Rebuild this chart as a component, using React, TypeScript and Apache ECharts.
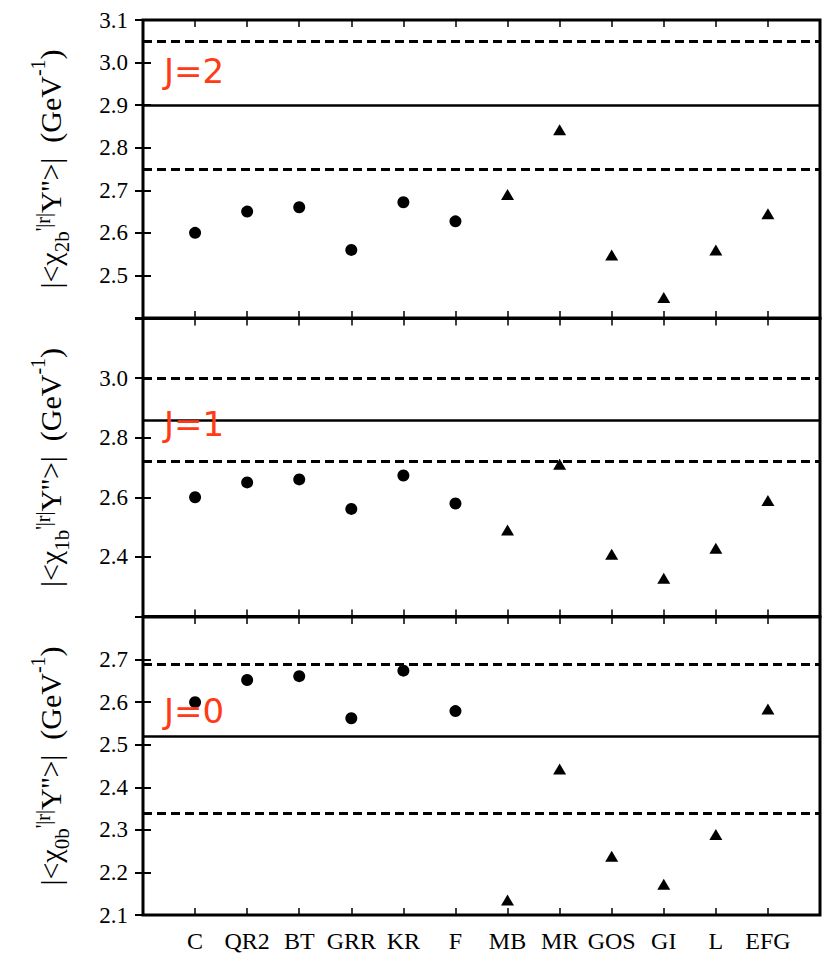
import React, { useEffect, useRef } from "react";
import * as echarts from "echarts";

// ---- data ----
const categories = ["C", "QR2", "BT", "GRR", "KR", "F", "MB", "MR", "GOS", "GI", "L", "EFG"];
const modelMarker = ["circle", "circle", "circle", "circle", "circle", "circle",
  "triangle", "triangle", "triangle", "triangle", "triangle", "triangle"];

const j2Values = [2.60, 2.65, 2.66, 2.56, 2.672, 2.627, 2.69, 2.842, 2.548, 2.448, 2.56, 2.645];
const j1Values = [2.60, 2.65, 2.66, 2.561, 2.673, 2.579, 2.49, 2.711, 2.409, 2.328, 2.429, 2.589];
const j0Values = [2.60, 2.652, 2.661, 2.562, 2.674, 2.579, 2.135, 2.443, 2.238, 2.172, 2.289, 2.584];

const j2Solid = 2.9;
const j2Dashed = [3.05, 2.75];
const j1Solid = 2.86;
const j1Dashed = [3.0, 2.72];
const j0Solid = 2.515;
const j0Dashed = [2.686, 2.343];

const j2Range = [2.4, 3.1, 0.1];
const j1Range = [2.2, 3.2, 0.2];
const j0Range = [2.1, 2.8, 0.1];

const panelLabels = ["J=2", "J=1", "J=0"];
const panelSubs = ["2b", "1b", "0b"];

const SERIF = "Liberation Serif";

export default function App() {
  const ref = useRef<HTMLDivElement>(null);

  useEffect(() => {
    if (!ref.current) return;
    const chart = echarts.init(ref.current, undefined, { renderer: "svg" });

    const panels = [
      { values: j2Values, range: j2Range, solid: j2Solid, dashed: j2Dashed, showMin: false, showMax: true },
      { values: j1Values, range: j1Range, solid: j1Solid, dashed: j1Dashed, showMin: false, showMax: false },
      { values: j0Values, range: j0Range, solid: j0Solid, dashed: j0Dashed, showMin: true, showMax: false },
    ];

    const gridTops = [20, 318.5, 617];
    const gridH = 298;

    const grids = gridTops.map((t) => ({
      left: 143,
      width: 677,
      top: t,
      height: gridH,
      show: true,
      borderColor: "#000",
      borderWidth: 3,
      backgroundColor: "transparent",
    }));

    const xAxes: any[] = [];
    const yAxes: any[] = [];
    const series: any[] = [];

    panels.forEach((p, gi) => {
      const isBottom = gi === 2;
      xAxes.push({
        type: "value",
        gridIndex: gi,
        position: "bottom",
        min: 0,
        max: 13,
        interval: 1,
        axisLine: { show: false },
        splitLine: { show: false },
        axisTick: { show: true, inside: true, length: 7, lineStyle: { color: "#000", width: 1.5 } },
        axisLabel: {
          show: isBottom,
          margin: 14,
          fontFamily: SERIF,
          fontSize: 24,
          color: "#000",
          formatter: (v: number) => categories[v - 1] ?? "",
        },
      });
      xAxes.push({
        type: "value",
        gridIndex: gi,
        position: "top",
        min: 0,
        max: 13,
        interval: 1,
        axisLine: { show: false },
        splitLine: { show: false },
        axisTick: { show: true, inside: true, length: 7, lineStyle: { color: "#000", width: 1.5 } },
        axisLabel: { show: false },
      });
      const [ymin, ymax, yint] = p.range;
      const sub = panelSubs[gi];
      yAxes.push({
        type: "value",
        gridIndex: gi,
        position: "left",
        min: ymin,
        max: ymax,
        interval: yint,
        axisLine: { show: false },
        splitLine: { show: false },
        axisTick: { show: true, inside: true, length: 8, lineStyle: { color: "#000", width: 2 } },
        axisLabel: {
          margin: 15,
          fontFamily: SERIF,
          fontSize: 23,
          color: "#000",
          showMinLabel: p.showMin,
          showMaxLabel: p.showMax,
          formatter: (v: number) => v.toFixed(1),
        },
        name: `{n||<χ}{sub|${sub}}{sup2|'|r|}{n|Y''>|}{n|  (GeV}{sup|-1}{n|)}`,
        nameLocation: "middle",
        nameRotate: 90,
        nameGap: 71,
        nameTextStyle: {
          fontFamily: SERIF,
          fontWeight: "normal",
          fontSize: 30,
          color: "#000",
          rich: {
            n: { fontFamily: SERIF, fontWeight: "normal", fontSize: 30, color: "#000", lineHeight: 44 },
            sub: { fontFamily: SERIF, fontWeight: "normal", fontSize: 21, color: "#000", lineHeight: 21, verticalAlign: "bottom" },
            sup: { fontFamily: SERIF, fontWeight: "normal", fontSize: 20, color: "#000", lineHeight: 28, verticalAlign: "top" },
            sup2: { fontFamily: SERIF, fontWeight: "normal", fontSize: 20, color: "#000", lineHeight: 20, padding: [0, 0, 14, 0] },
          },
        },
      });
      yAxes.push({
        type: "value",
        gridIndex: gi,
        position: "right",
        min: ymin,
        max: ymax,
        interval: yint,
        axisLine: { show: false },
        splitLine: { show: false },
        axisTick: { show: true, inside: true, length: 8, lineStyle: { color: "#000", width: 2 } },
        axisLabel: { show: false },
      });

      const xIdx = gi * 2;
      const yIdx = gi * 2;
      const circleData: number[][] = [];
      const triData: number[][] = [];
      p.values.forEach((v, i) => {
        if (modelMarker[i] === "circle") circleData.push([i + 1, v]);
        else triData.push([i + 1, v]);
      });

      series.push({
        type: "scatter",
        xAxisIndex: xIdx,
        yAxisIndex: yIdx,
        symbol: "circle",
        symbolSize: 12,
        itemStyle: { color: "#000", opacity: 1 },
        data: circleData,
        z: 5,
        markLine: {
          silent: true,
          symbol: ["none", "none"],
          label: { show: false },
          data: [
            { yAxis: p.solid, lineStyle: { color: "#000", width: 2.5, type: "solid" } },
            ...p.dashed.map((d) => ({ yAxis: d, lineStyle: { color: "#000", width: 2.8, type: [9, 5] } })),
          ],
        },
      });
      series.push({
        type: "scatter",
        xAxisIndex: xIdx,
        yAxisIndex: yIdx,
        symbol: "triangle",
        symbolSize: [13, 11],
        itemStyle: { color: "#000", opacity: 1 },
        data: triData,
        z: 5,
      });
    });

    const labelY = [74, 427, 714];
    const graphic = panelLabels.map((t, i) => ({
      type: "text",
      left: 164,
      top: labelY[i] - 20,
      z: 10,
      style: {
        text: t,
        fill: "#ff3a14",
        font: "34px 'DejaVu Sans', sans-serif",
      },
    }));

    chart.setOption({
      animation: false,
      backgroundColor: "#fff",
      grid: grids,
      xAxis: xAxes,
      yAxis: yAxes,
      series,
      graphic,
    });

    return () => chart.dispose();
  }, []);

  return (
    <div
      ref={ref}
      style={{ position: "fixed", left: 0, top: 0, width: 831, height: 955 }}
    />
  );
}
